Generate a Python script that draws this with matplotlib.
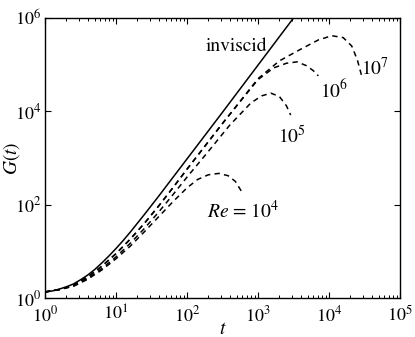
import numpy as np
import matplotlib
matplotlib.use("Agg")
import matplotlib.pyplot as plt
from matplotlib.ticker import LogLocator, FixedLocator, NullFormatter

plt.rcParams['font.family'] = ['STIXGeneral', 'DejaVu Serif']
plt.rcParams['mathtext.fontset'] = 'stix'

# log10(t), log10(G)
lt_inv = [0, 0.1, 0.2, 0.3, 0.4, 0.5, 0.6, 0.7, 0.8, 0.9, 1.0, 1.1, 1.2, 1.3, 1.4, 1.6, 1.8, 2.0, 2.5, 3.0, 3.5, 3.6]
lG_inv = [0.13, 0.15, 0.19, 0.24, 0.30, 0.39, 0.49, 0.61, 0.75, 0.90, 1.06, 1.23, 1.41, 1.60, 1.79, 2.18, 2.58, 2.98, 3.98, 4.99, 6.0, 6.2]

lt_re7 = [0, 0.2, 0.4, 0.6, 0.8, 1.0, 1.2, 1.4, 1.6, 1.8, 2.0, 2.5, 3.0, 3.3, 3.6, 3.85, 4.04, 4.2, 4.32, 4.4, 4.46]
lG_re7 = [0.13, 0.18, 0.27, 0.45, 0.68, 0.95, 1.26, 1.60, 1.97, 2.36, 2.76, 3.74, 4.70, 5.08, 5.33, 5.53, 5.62, 5.58, 5.40, 5.10, 4.76]

lt_re6 = [0, 0.2, 0.4, 0.6, 0.8, 1.0, 1.2, 1.4, 1.6, 1.8, 2.0, 2.5, 3.0, 3.22, 3.4, 3.55, 3.68, 3.78, 3.85]
lG_re6 = [0.13, 0.18, 0.27, 0.45, 0.68, 0.95, 1.26, 1.60, 1.97, 2.36, 2.76, 3.74, 4.68, 4.93, 5.03, 5.06, 4.98, 4.87, 4.76]

lt_re5 = [0, 0.2, 0.4, 0.6, 0.8, 1.0, 1.2, 1.4, 1.6, 1.8, 2.0, 2.3, 2.6, 2.9, 3.05, 3.18, 3.3, 3.4, 3.46]
lG_re5 = [0.13, 0.18, 0.26, 0.42, 0.63, 0.88, 1.17, 1.49, 1.84, 2.21, 2.59, 3.14, 3.70, 4.18, 4.33, 4.39, 4.32, 4.12, 3.92]

lt_re4 = [0, 0.2, 0.4, 0.6, 0.8, 1.0, 1.2, 1.4, 1.6, 1.8, 2.0, 2.15, 2.3, 2.45, 2.58, 2.68, 2.77]
lG_re4 = [0.13, 0.18, 0.25, 0.40, 0.60, 0.84, 1.11, 1.42, 1.74, 2.06, 2.36, 2.54, 2.64, 2.67, 2.62, 2.50, 2.28]

labels = ['inviscid', r'$10^7$', r'$10^6$', r'$10^5$', r'$Re$ = $10^4$']
label_lt = [2.69, 4.65, 4.07, 3.48, 2.79]
label_lG = [5.40, 4.93, 4.45, 3.47, 1.86]

fig = plt.figure(figsize=(4.15, 3.37), dpi=100)
ax = fig.add_axes([45/415, 39/337, 355/415, 280/337])

def p(a):
    return 10.0 ** np.asarray(a)

ax.plot(p(lt_inv), p(lG_inv), color='black', lw=1.1, ls='-')
for lt, lG in [(lt_re7, lG_re7), (lt_re6, lG_re6), (lt_re5, lG_re5), (lt_re4, lG_re4)]:
    ax.plot(p(lt), p(lG), color='black', lw=1.1, ls=(0, (3.5, 2.8)))

ax.set_xscale('log')
ax.set_yscale('log')
ax.set_xlim(1, 1e5)
ax.set_ylim(1, 1e6)

ax.xaxis.set_major_locator(FixedLocator([1, 1e1, 1e2, 1e3, 1e4, 1e5]))
ax.xaxis.set_minor_locator(LogLocator(base=10, subs=np.arange(2, 10), numticks=20))
ax.xaxis.set_minor_formatter(NullFormatter())
ax.yaxis.set_major_locator(FixedLocator([1, 1e2, 1e4, 1e6]))
ax.yaxis.set_minor_locator(FixedLocator([]))
ax.set_xticklabels([r'$10^{%d}$' % i for i in range(6)])
ax.set_yticklabels([r'$10^{%d}$' % i for i in range(0, 7, 2)])

ax.tick_params(which='both', direction='in', top=True, right=True, labelsize=13)
ax.tick_params(axis='y', pad=3)
ax.tick_params(axis='x', pad=5)
ax.tick_params(which='major', length=4, width=0.8)
ax.tick_params(which='minor', length=2, width=0.7)
for s in ax.spines.values():
    s.set_linewidth(1.0)

ax.set_xlabel(r'$t$', fontsize=14)
ax.set_ylabel(r'$G(t)$', fontsize=14)
ax.xaxis.set_label_coords(0.5, -0.083)
ax.yaxis.set_label_coords(-0.066, 0.5)

for txt, x, y in zip(labels, label_lt, label_lG):
    ax.text(10 ** x, 10 ** y, txt, fontsize=14, ha='center', va='center')

fig.savefig('out.png', dpi=100)
